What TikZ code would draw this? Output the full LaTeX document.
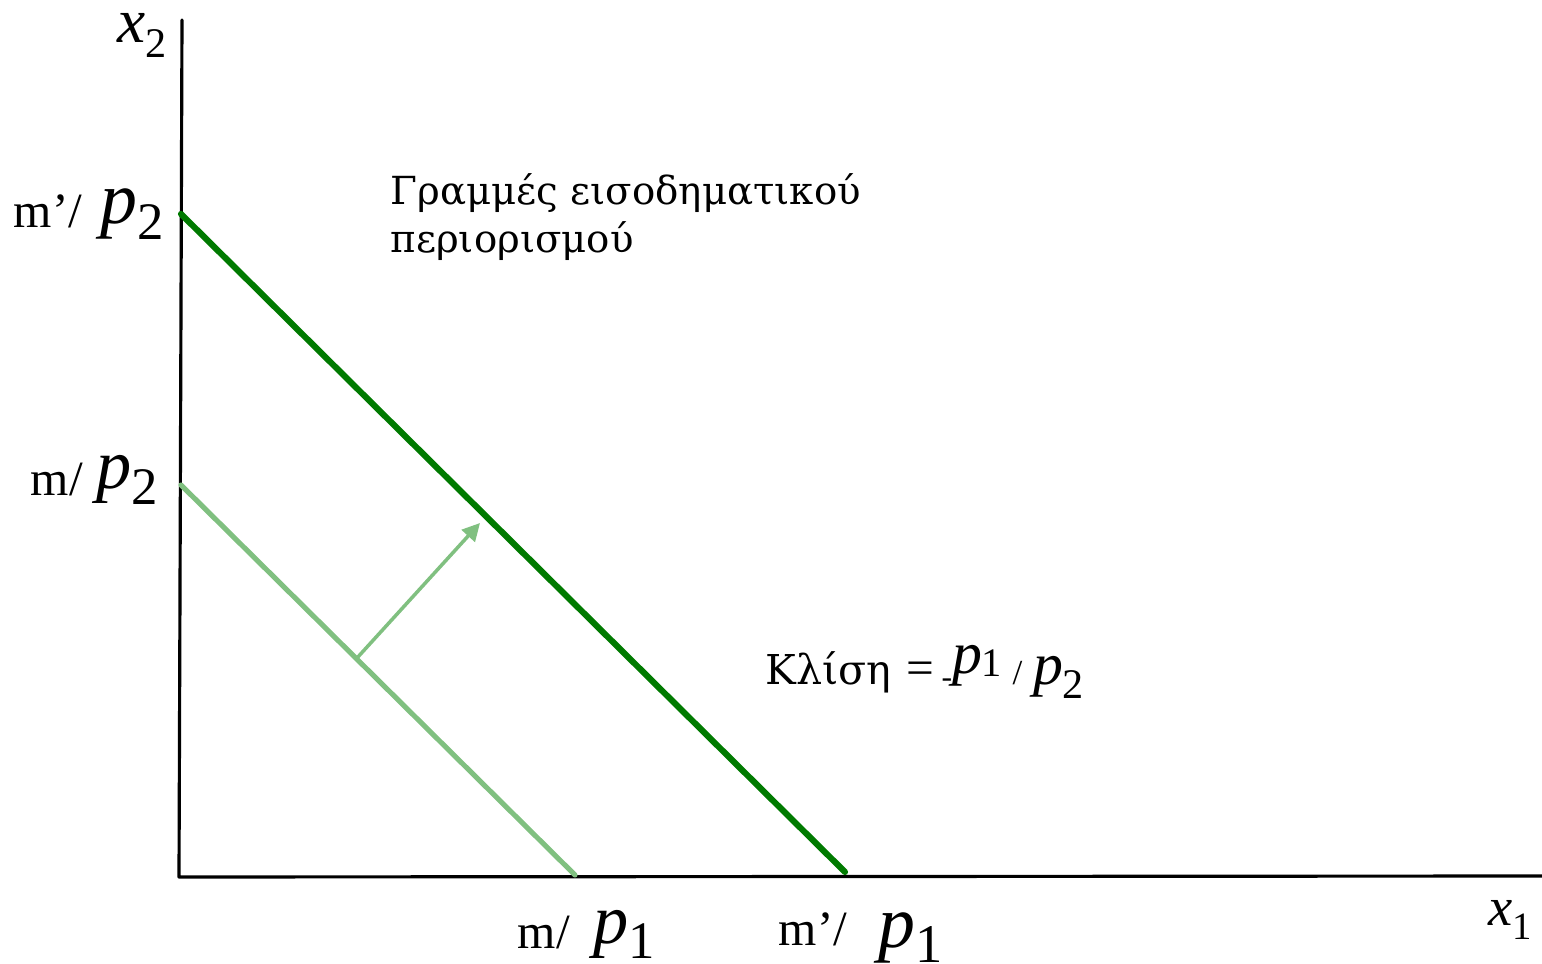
\documentclass[tikz,border=0pt]{standalone}
\usepackage{fontspec}
\setmainfont{Liberation Serif}
\newfontfamily\greekfont{DejaVu Serif}
\usetikzlibrary{arrows.meta}
\definecolor{LineDark}{HTML}{007A00}
\definecolor{LineLight}{HTML}{80C080}
% italic symbol with a lowered index: size, index size, symbol, index, drop
\newcommand{\sym}[5]{{\fontsize{#1}{#1}\selectfont\itshape #3\/}\raisebox{-#5}{\fontsize{#2}{#2}\selectfont #4}}

\begin{document}
\begin{tikzpicture}[x=0.01cm,y=-0.01cm,line cap=round,line join=round,
  lbl/.style={anchor=base west,inner sep=0pt,font=\fontsize{14pt}{16pt}\selectfont},
  gr/.style={lbl,font=\fontsize{11pt}{14pt}\greekfont}]
  \useasboundingbox (0,0) rectangle (1542,964);
  \coordinate (O) at (179,877);\coordinate (Ytop) at (182,20);\coordinate (Xend) at (1542,876);
  \coordinate (A) at (181,214);\coordinate (B) at (845,872);
  \coordinate (C) at (181,485);\coordinate (D) at (575,875);
  \coordinate (S) at (357,658);\coordinate (T) at (480,523);
  \draw[line width=0.9pt] (Ytop)--(O)--(Xend);
  \draw[LineLight,line width=1.45pt] (C)--(D);
  \draw[LineDark,line width=1.75pt] (A)--(B);
  \draw[LineLight,line width=1pt,-{Triangle[length=5pt,width=5pt]}] (S)--(T);
  \node[lbl] (x2) at (117,43) {\sym{18pt}{12pt}{x}{2}{4pt}};
  \node[lbl] (x1) at (1488,925) {\sym{15.5pt}{11pt}{x}{1}{4pt}};
  \node[lbl] (mtop) at (13,228) {m’/};
  \node[lbl] (ptop) at (100,224) {\sym{21pt}{15pt}{p}{2}{4.5pt}};
  \node[lbl] (mlow) at (30,495) {m/};
  \node[lbl] (plow) at (96,489) {\sym{20pt}{15pt}{p}{2}{4.5pt}};
  \node[lbl] (m1) at (517,948) {m/};
  \node[lbl] (p1) at (593,943) {\sym{20pt}{15pt}{p}{1}{4.5pt}};
  \node[lbl] (mm1) at (778,945) {m’/};
  \node[lbl] (pp1) at (878,947) {\sym{21pt}{15.5pt}{p}{1}{4.5pt}};
  \node[gr] (title1) at (390,205) {Γραμμές εισοδηματικού};
  \node[gr] (title2) at (390,253) {περιορισμού};
  \node[gr,font=\fontsize{11.7pt}{14pt}\greekfont] (slope) at (765,684) {Κλίση};
  \node[lbl] (slopeval) at (906,684) {=\hspace{2pt}\raisebox{-1pt}{\fontsize{9pt}{9pt}\selectfont -}\raisebox{3pt}{\sym{17pt}{11.5pt}{p}{1}{1pt}}\hspace{3pt}{\fontsize{10pt}{10pt}\selectfont /}\hspace{3pt}\sym{17pt}{12pt}{p}{2}{4pt}};
\end{tikzpicture}
\end{document}
